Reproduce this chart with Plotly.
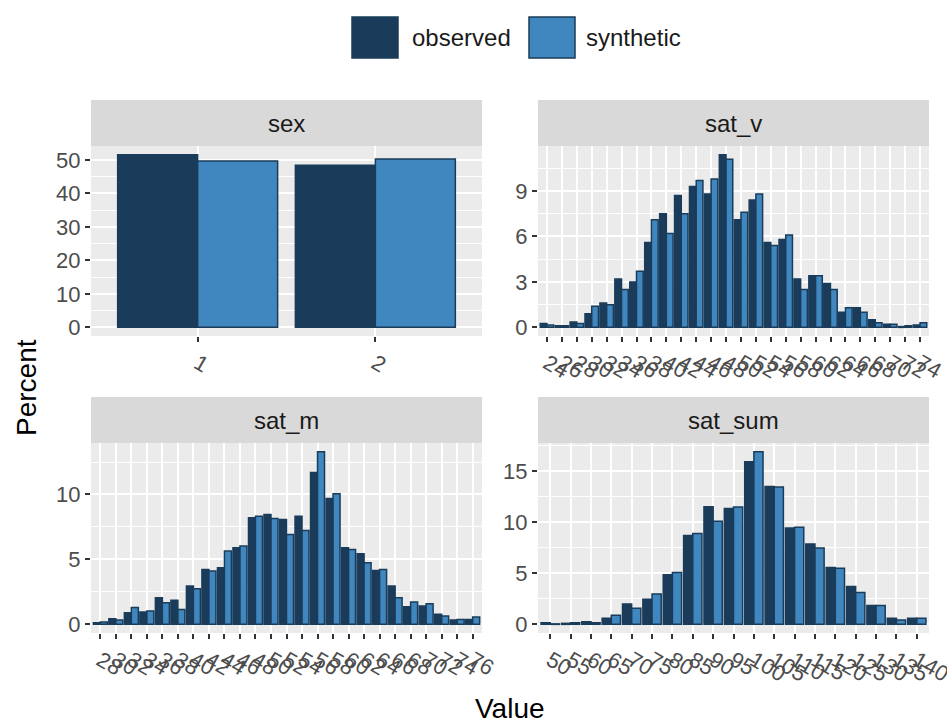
import plotly.graph_objects as go

# ---- data: percentage of records per category / bin ----
sex_labels = ["1", "2"]
sex_observed = [51.6, 48.4]
sex_synthetic = [49.7, 50.3]

sat_v_labels = ["24", "26", "28", "30", "32", "34", "36", "38", "40", "42", "44", "46", "48",
                "50", "52", "54", "56", "58", "60", "62", "64", "66", "68", "70", "72", "74"]
sat_v_observed = [0.25, 0.10, 0.35, 0.9, 1.6, 3.2, 3.0, 5.6, 7.5, 8.7, 9.3, 8.8, 11.4,
                  7.1, 8.4, 5.6, 5.8, 3.2, 3.4, 2.9, 1.0, 1.3, 0.5, 0.2, 0.05, 0.15]
sat_v_synthetic = [0.15, 0.10, 0.25, 1.4, 1.5, 2.5, 3.7, 7.1, 6.2, 7.5, 9.7, 9.8, 11.1,
                   7.6, 8.8, 5.4, 6.1, 2.5, 3.4, 2.5, 1.3, 1.0, 0.3, 0.2, 0.1, 0.3]

sat_m_labels = ["28", "30", "32", "34", "36", "38", "40", "42", "44", "46", "48", "50", "52",
                "54", "56", "58", "60", "62", "64", "66", "68", "70", "72", "74", "76"]
sat_m_observed = [0.13, 0.44, 0.9, 0.95, 2.05, 1.85, 2.95, 4.23, 4.36, 5.9, 8.2, 8.46, 8.08,
                  8.33, 11.7, 9.7, 5.9, 5.44, 4.15, 2.95, 1.36, 1.41, 0.77, 0.33, 0.38]
sat_m_synthetic = [0.18, 0.33, 1.3, 1.03, 1.67, 1.15, 2.74, 4.1, 5.64, 6.03, 8.33, 8.15, 6.92,
                   7.23, 13.3, 10.05, 5.77, 4.74, 4.23, 2.05, 1.72, 1.59, 0.64, 0.38, 0.56]

sat_sum_labels = ["50", "55", "60", "65", "70", "75", "80", "85", "90", "95",
                  "100", "105", "110", "115", "120", "125", "130", "135", "140"]
sat_sum_observed = [0.16, 0.10, 0.26, 0.6, 2.0, 2.46, 4.85, 8.69, 11.5, 11.34,
                    15.9, 13.5, 9.44, 7.87, 5.57, 3.7, 1.84, 0.6, 0.6]
sat_sum_synthetic = [0.05, 0.16, 0.16, 0.9, 1.57, 2.98, 5.08, 8.89, 10.1, 11.48,
                     16.9, 13.44, 9.5, 7.48, 5.5, 3.11, 1.84, 0.43, 0.6]

series_names = ["observed", "synthetic"]

# ---- styling ----
W, H = 947, 724
OBS_COL = "#1A3C5A"
SYN_COL = "#4187BF"
PANEL_BG = "#EBEBEB"
STRIP_BG = "#D9D9D9"
FONT = "Liberation Sans, Arial, sans-serif"
TICK_FONT = dict(family=FONT, size=22, color="#4D4D4D")
TEXT_FONT = dict(family=FONT, size=24, color="#1A1A1A")
TITLE_FONT = dict(family=FONT, size=28, color="black")

# panel boxes in pixels: (left, right, top, bottom); strip sits above each
panels = [
    dict(name="sex", labels=sex_labels, obs=sex_observed, syn=sex_synthetic,
         box=(91, 482, 146, 336), dtick=10),
    dict(name="sat_v", labels=sat_v_labels, obs=sat_v_observed, syn=sat_v_synthetic,
         box=(538, 929, 146, 336), dtick=3),
    dict(name="sat_m", labels=sat_m_labels, obs=sat_m_observed, syn=sat_m_synthetic,
         box=(91, 482, 443, 633), dtick=5),
    dict(name="sat_sum", labels=sat_sum_labels, obs=sat_sum_observed, syn=sat_sum_synthetic,
         box=(538, 929, 443, 633), dtick=5),
]
STRIP_H = 46


def px_x(v):
    return v / W


def px_y(v):
    return 1 - v / H


fig = go.Figure()
shapes = []
annotations = []
layout_axes = {}

for i, p in enumerate(panels, start=1):
    sfx = "" if i == 1 else str(i)
    xa, ya = "x" + sfx, "y" + sfx
    left, right, top, bottom = p["box"]

    for name, vals, col in ((series_names[0], p["obs"], OBS_COL),
                            (series_names[1], p["syn"], SYN_COL)):
        fig.add_trace(go.Bar(
            x=p["labels"], y=vals, name=name, xaxis=xa, yaxis=ya,
            marker=dict(color=col, line=dict(color=OBS_COL, width=1.5)),
            showlegend=False,
        ))

    n = len(p["labels"])
    ymax = max(max(p["obs"]), max(p["syn"]))
    layout_axes["xaxis" + sfx] = dict(
        domain=[px_x(left), px_x(right)], anchor=ya, type="category",
        range=[-0.6, n - 0.4], tickmode="array", tickvals=p["labels"],
        ticktext=p["labels"], tickangle=30, tickfont=TICK_FONT,
        ticks="outside", ticklen=5, tickwidth=1.5, tickcolor="#333333",
        showgrid=True, gridcolor="white", gridwidth=1.8, zeroline=False,
        showline=False, fixedrange=True, automargin=False,
    )
    layout_axes["yaxis" + sfx] = dict(
        domain=[px_y(bottom), px_y(top)], anchor=xa,
        range=[-0.05 * ymax, 1.05 * ymax], tickmode="linear", tick0=0,
        dtick=p["dtick"], tickfont=TICK_FONT,
        ticks="outside", ticklen=5, tickwidth=1.5, tickcolor="#333333",
        showgrid=True, gridcolor="white", gridwidth=1.8, zeroline=False,
        minor=dict(dtick=p["dtick"] / 2, showgrid=True, gridcolor="white",
                   gridwidth=0.9, ticks=""),
        showline=False, fixedrange=True, automargin=False,
    )

    # facet strip
    shapes.append(dict(type="rect", xref="paper", yref="paper",
                       x0=px_x(left), x1=px_x(right),
                       y0=px_y(top), y1=px_y(top - STRIP_H),
                       fillcolor=STRIP_BG, line=dict(width=0), layer="below"))
    annotations.append(dict(text=p["name"], xref="paper", yref="paper",
                            x=px_x((left + right) / 2), y=px_y(top - STRIP_H / 2),
                            showarrow=False, xanchor="center", yanchor="middle",
                            font=TEXT_FONT))

# legend: keys and labels at the top
legend_items = [(series_names[0], OBS_COL, 352, 410), (series_names[1], SYN_COL, 529, 584)]
for label, col, kx, tx in legend_items:
    shapes.append(dict(type="rect", xref="paper", yref="paper",
                       x0=px_x(kx), x1=px_x(kx + 46), y0=px_y(58), y1=px_y(17),
                       fillcolor=col, line=dict(color=OBS_COL, width=1.5)))
    annotations.append(dict(text=label, xref="paper", yref="paper",
                            x=px_x(tx), y=px_y(37.5), showarrow=False,
                            xanchor="left", yanchor="middle", font=TEXT_FONT))

# axis titles
annotations.append(dict(text="Value", xref="paper", yref="paper",
                        x=px_x(510), y=px_y(708), showarrow=False,
                        xanchor="center", yanchor="middle", font=TITLE_FONT))
annotations.append(dict(text="Percent", xref="paper", yref="paper",
                        x=px_x(26), y=px_y(388), showarrow=False, textangle=-90,
                        xanchor="center", yanchor="middle", font=TITLE_FONT))

fig.update_layout(
    width=W, height=H, margin=dict(l=0, r=0, t=0, b=0, autoexpand=False),
    paper_bgcolor="white", plot_bgcolor=PANEL_BG,
    barmode="group", bargap=0.1, bargroupgap=0,
    shapes=shapes, annotations=annotations, showlegend=False,
    **layout_axes,
)

fig.write_html("out.html")
